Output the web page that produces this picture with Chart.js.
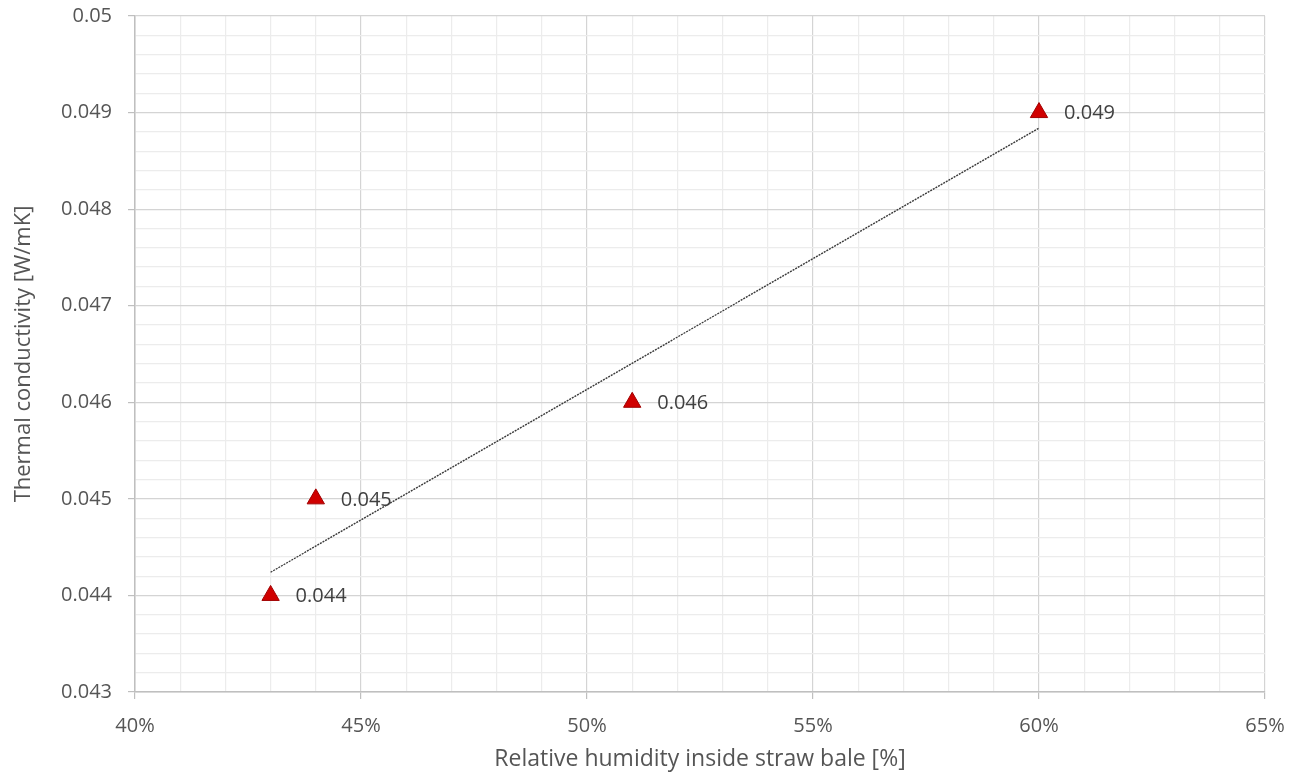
<!DOCTYPE html>
<html>
<head>
<meta charset="utf-8">
<script src="https://cdn.jsdelivr.net/npm/chart.js@4"></script>
<style>
  html, body { margin: 0; padding: 0; background: #ffffff; }
  #wrap { width: 1297px; height: 775px; position: relative; }
</style>
</head>
<body>
<div id="wrap"><canvas id="c"></canvas></div>
<script>
// Data
const humidity = [43, 44, 51, 60];              // Relative humidity [%]
const conductivity = [0.044, 0.045, 0.046, 0.049]; // Thermal conductivity [W/mK]
const pointLabels = ['0.044', '0.045', '0.046', '0.049'];
// Linear trendline end points
const trendX = [43, 60];
const trendY = [0.04424, 0.04884];

const xTitle = 'Relative humidity inside straw bale [%]';
const yTitle = 'Thermal conductivity [W/mK]';

const FONT = "'Open Sans', 'DejaVu Sans', sans-serif";
const TEXT = '#555555';

function isMajorY(v) { return Math.abs(v * 1000 - Math.round(v * 1000)) < 1e-6; }
function isMajorX(v) { return Math.abs(v / 5 - Math.round(v / 5)) < 1e-6; }

const labelPlugin = {
  id: 'pointLabels',
  afterDatasetsDraw(chart) {
    const meta = chart.getDatasetMeta(1);
    const ctx = chart.ctx;
    ctx.save();
    ctx.font = '20px ' + FONT;
    ctx.fillStyle = '#404040';
    ctx.textAlign = 'left';
    ctx.textBaseline = 'middle';
    meta.data.forEach((pt, i) => {
      ctx.fillText(pointLabels[i], pt.x + 25, pt.y + 1);
    });
    ctx.restore();
  }
};

new Chart(document.getElementById('c'), {
  type: 'scatter',
  data: {
    datasets: [
      {
        label: 'Trend',
        type: 'line',
        data: trendX.map((x, i) => ({ x: x, y: trendY[i] })),
        borderColor: '#3a3a3a',
        borderWidth: 1.4,
        borderDash: [2, 1],
        pointRadius: 0,
        fill: false
      },
      {
        label: 'Measured',
        data: humidity.map((x, i) => ({ x: x, y: conductivity[i] })),
        pointStyle: 'triangle',
        pointRadius: 10,
        pointHoverRadius: 10,
        backgroundColor: '#d00000',
        borderColor: '#a00000',
        borderWidth: 1
      }
    ]
  },
  options: {
    responsive: true,
    maintainAspectRatio: false,
    devicePixelRatio: 1,
    animation: false,
    layout: { padding: { top: 16, right: 32, left: 0, bottom: 0 } },
    plugins: {
      legend: { display: false },
      tooltip: { enabled: false }
    },
    scales: {
      x: {
        type: 'linear',
        min: 40,
        max: 65,
        afterFit(s) { s.height = 83; s.paddingLeft = 0; s.paddingRight = 0; },
        ticks: {
          stepSize: 1,
          autoSkip: false,
          maxRotation: 0,
          padding: 15,
          color: TEXT,
          font: { family: FONT, size: 20 },
          callback: v => isMajorX(v) ? Math.round(v) + '%' : ''
        },
        grid: {
          color: c => (c.tick && isMajorX(c.tick.value)) ? '#d4d4d4' : '#ececec',
          lineWidth: 1.2,
          tickLength: 7,
          tickColor: c => (c.tick && isMajorX(c.tick.value)) ? '#bfbfbf' : 'rgba(0,0,0,0)'
        },
        border: { color: '#bfbfbf', width: 1.5 },
        title: {
          display: true,
          text: xTitle,
          color: TEXT,
          font: { family: FONT, size: 23 },
          padding: { top: 0, bottom: 2 }
        }
      },
      y: {
        type: 'linear',
        min: 0.043,
        max: 0.05,
        afterFit(s) { s.width = 135; s.paddingTop = 0; s.paddingBottom = 0; },
        ticks: {
          stepSize: 0.0002,
          autoSkip: false,
          padding: 16,
          color: TEXT,
          font: { family: FONT, size: 20 },
          callback: v => isMajorY(v) ? String(Number(v.toFixed(3))) : ''
        },
        grid: {
          color: c => (c.tick && isMajorY(c.tick.value)) ? '#d4d4d4' : '#ececec',
          lineWidth: 1.2,
          tickLength: 7,
          tickColor: c => (c.tick && isMajorY(c.tick.value)) ? '#bfbfbf' : 'rgba(0,0,0,0)'
        },
        border: { color: '#bfbfbf', width: 1.5 },
        title: {
          display: true,
          text: yTitle,
          color: TEXT,
          font: { family: FONT, size: 22 },
          padding: { top: 11, bottom: 0 }
        }
      }
    }
  },
  plugins: [labelPlugin]
});
</script>
</body>
</html>
